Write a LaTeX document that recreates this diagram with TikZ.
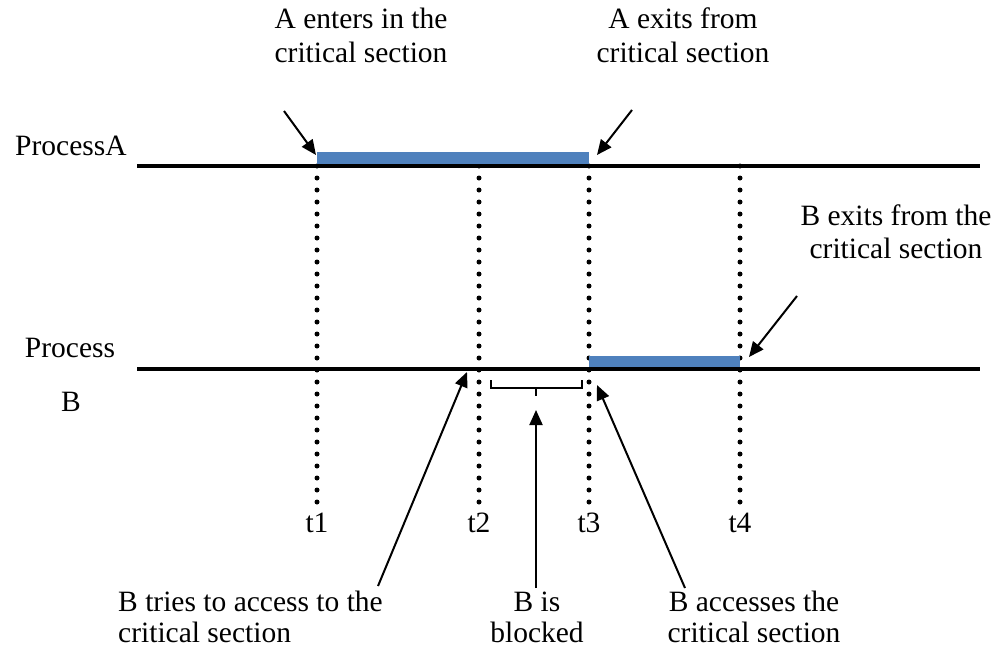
\documentclass[tikz,border=0pt]{standalone}
\usepackage{fontspec}
\setmainfont{Liberation Serif}
\usetikzlibrary{arrows.meta}
\definecolor{barblue}{RGB}{79,129,189}

\begin{document}
\begin{tikzpicture}[x=1pt,y=-1pt,
  lbl/.style={font=\fontsize{29.5}{33}\selectfont, anchor=base, inner sep=0pt},
  lblw/.style={lbl, anchor=base west},
  timeline/.style={line width=4pt},
  crit/.style={fill=barblue},
  guide/.style={line width=5pt, line cap=round, dash pattern=on 0pt off 12pt},
  pointer/.style={line width=2pt, -{Triangle[length=15pt,width=13pt]}},
  brace/.style={line width=2pt},
]
\useasboundingbox (0,0) rectangle (994,651);

% time lines of the two processes
\coordinate (a0) at (137,166);
\coordinate (a1) at (980,166);
\coordinate (b0) at (137,369);
\coordinate (b1) at (980,369);

% instants
\foreach \n/\x in {1/317,2/479,3/589,4/740}{
  \coordinate (top\n) at (\x,166);
  \coordinate (bot\n) at (\x,502);
  \node[lbl] (t\n) at (\x,532) {t\n};
}

% dotted guides
\foreach \n in {1,2,3,4}{
  \draw[guide] (top\n) -- (bot\n);
}

% critical section bars
\fill[crit] (317,152) rectangle (589,164);
\fill[crit] (589,356) rectangle (740,367);

\draw[timeline] (a0) -- (a1);
\draw[timeline] (b0) -- (b1);

% process names
\node[lblw] (pa) at (15,155) {ProcessA};
\node[lbl] (pb1) at (70,357) {Process};
\node[lbl] (pb2) at (71,411) {B};

% labels at the top
\node[lbl] (ae1) at (361,28) {A enters in the};
\node[lbl] (ae2) at (361,62) {critical section};
\node[lbl] (ax1) at (683,28) {A exits from};
\node[lbl] (ax2) at (683,62) {critical section};
\node[lbl] (bx1) at (896,225) {B exits from the};
\node[lbl] (bx2) at (896,258) {critical section};

% labels at the bottom
\node[lblw] (bt1) at (118,611) {B tries to access to the};
\node[lblw] (bt2) at (118,642) {critical section};
\node[lbl] (bb1) at (537,611) {B is};
\node[lbl] (bb2) at (537,642) {blocked};
\node[lbl] (ba1) at (754,611) {B accesses the};
\node[lbl] (ba2) at (754,642) {critical section};

% waiting interval of B
\coordinate (w0) at (491,380);
\coordinate (w1) at (491,388);
\coordinate (w2) at (582,388);
\coordinate (w3) at (582,380);
\coordinate (wm) at (536,388);
\coordinate (wt) at (536,396);
\draw[brace] (w0) -- (w1) -- (w2) -- (w3);
\draw[brace] (wm) -- (wt);

% pointers
\coordinate (pae0) at (284,111); \coordinate (pae1) at (316,155);
\coordinate (pax0) at (632,110); \coordinate (pax1) at (597,155);
\coordinate (pbx0) at (797,296); \coordinate (pbx1) at (749,357);
\coordinate (pbt0) at (378,586); \coordinate (pbt1) at (467,372);
\coordinate (pbb0) at (536,588); \coordinate (pbb1) at (536,410);
\coordinate (pba0) at (685,588); \coordinate (pba1) at (597,385);
\draw[pointer] (pae0) -- (pae1);
\draw[pointer] (pax0) -- (pax1);
\draw[pointer] (pbx0) -- (pbx1);
\draw[pointer] (pbt0) -- (pbt1);
\draw[pointer] (pbb0) -- (pbb1);
\draw[pointer] (pba0) -- (pba1);
\end{tikzpicture}
\end{document}
